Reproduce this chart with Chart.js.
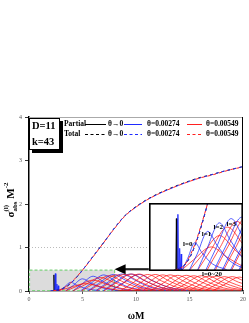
<!DOCTYPE html>
<html>
<head>
<meta charset="utf-8">
<script src="https://cdn.jsdelivr.net/npm/chart.js@4"></script>
<style>
  html, body { margin: 0; padding: 0; background: #fff; }
  #wrap { position: relative; width: 249px; height: 323px; }
  #inset { position: absolute; }
</style>
</head>
<body>
<div id="wrap">
  <canvas id="main" width="249" height="323"></canvas>
  <div id="inset"><canvas id="insetChart"></canvas></div>
</div>
<script>
// total cross sections
const totalOmega = [2.0, 3.0, 3.5, 4.0, 4.5, 5.0, 6.0, 7.0, 8.0, 9.0, 10, 11, 12, 13, 14, 15, 16, 17, 18, 19, 20];
const totalZero = [0, 0.04, 0.10, 0.20, 0.33, 0.48, 0.80, 1.12, 1.45, 1.74, 1.94, 2.10, 2.23, 2.34, 2.44, 2.53, 2.61, 2.67, 2.74, 2.80, 2.86];
const totalBlue = [0, 0.04, 0.10, 0.20, 0.33, 0.48, 0.80, 1.12, 1.45, 1.74, 1.93, 2.09, 2.22, 2.33, 2.43, 2.52, 2.60, 2.67, 2.74, 2.80, 2.86];
const totalRed = [0, 0.04, 0.11, 0.21, 0.34, 0.48, 0.79, 1.12, 1.44, 1.73, 1.93, 2.09, 2.22, 2.33, 2.43, 2.52, 2.60, 2.66, 2.73, 2.80, 2.85];

// resonance spikes (omega, sigma)
const spikeZero = [[2.28, 0], [2.33, 0.37], [2.38, 0]];
const spikeBlue = [[2.41, 0], [2.46, 0.40], [2.51, 0], [2.57, 0], [2.61, 0.16], [2.65, 0], [2.70, 0], [2.74, 0.12], [2.78, 0]];

// partial cross sections, one list per l  (omega, sigma)
const partialBlue = [
  [[2.8, 0], [3.3, 0.09], [3.9, 0.20], [4.5, 0.13], [5.4, 0.05], [6.6, 0.01]],
  [[3.4, 0], [4.1, 0.12], [5.0, 0.28], [5.8, 0.18], [6.9, 0.07], [8.3, 0.01]],
  [[4.1, 0], [4.9, 0.15], [6.0, 0.34], [6.9, 0.22], [8.1, 0.08], [9.6, 0.01]],
  [[4.8, 0], [5.7, 0.16], [7.0, 0.37], [8.0, 0.24], [9.3, 0.09], [10.9, 0.01]],
  [[5.5, 0], [6.5, 0.17], [7.9, 0.38], [9.0, 0.25], [10.4, 0.09], [12.0, 0.01]],
  [[6.2, 0], [7.2, 0.17], [8.7, 0.39], [9.9, 0.25], [11.3, 0.09], [13.0, 0.01]],
  [[6.9, 0], [7.9, 0.17], [9.5, 0.39], [10.7, 0.25], [12.2, 0.09], [13.9, 0.01]],
  [[7.6, 0], [8.7, 0.17], [10.3, 0.38], [11.5, 0.24], [13.0, 0.09], [14.8, 0.01]]
];
const partialRed = [
  [[2.7, 0], [3.8, 0.08], [5.3, 0.17], [6.6, 0.10], [8.1, 0.03], [9.7, 0]],
  [[3.4, 0], [4.5, 0.11], [6.0, 0.25], [7.3, 0.15], [8.8, 0.05], [10.4, 0.01]],
  [[4.1, 0], [5.2, 0.14], [6.7, 0.31], [8.0, 0.19], [9.5, 0.06], [11.1, 0.01]],
  [[4.9, 0], [6.0, 0.16], [7.5, 0.35], [8.8, 0.21], [10.3, 0.07], [11.9, 0.01]],
  [[5.6, 0], [6.7, 0.17], [8.2, 0.37], [9.5, 0.22], [11.0, 0.07], [12.6, 0.01]],
  [[6.3, 0], [7.4, 0.17], [8.9, 0.38], [10.2, 0.23], [11.7, 0.08], [13.3, 0.01]],
  [[7.0, 0], [8.1, 0.18], [9.6, 0.39], [10.9, 0.23], [12.4, 0.08], [14.0, 0.01]],
  [[7.7, 0], [8.8, 0.18], [10.3, 0.39], [11.6, 0.23], [13.1, 0.08], [14.7, 0.01]],
  [[8.5, 0], [9.6, 0.17], [11.1, 0.38], [12.4, 0.23], [13.9, 0.08], [15.5, 0.01]],
  [[9.2, 0], [10.3, 0.17], [11.8, 0.38], [13.1, 0.23], [14.6, 0.08], [16.2, 0.01]],
  [[9.9, 0], [11.0, 0.17], [12.5, 0.37], [13.8, 0.22], [15.3, 0.07], [16.9, 0.01]],
  [[10.6, 0], [11.7, 0.17], [13.2, 0.37], [14.5, 0.22], [16.0, 0.07], [17.6, 0.01]],
  [[11.3, 0], [12.4, 0.16], [13.9, 0.36], [15.2, 0.22], [16.7, 0.07], [18.3, 0.01]],
  [[12.1, 0], [13.2, 0.16], [14.7, 0.36], [16.0, 0.22], [17.5, 0.07], [19.1, 0.01]],
  [[12.8, 0], [13.9, 0.16], [15.4, 0.35], [16.7, 0.21], [18.2, 0.07], [19.8, 0.01]],
  [[13.5, 0], [14.6, 0.16], [16.1, 0.35], [17.4, 0.21], [18.9, 0.07], [20, 0.03]],
  [[14.2, 0], [15.3, 0.15], [16.8, 0.34], [18.1, 0.20], [19.6, 0.07], [20, 0.05]],
  [[14.9, 0], [16.0, 0.15], [17.5, 0.34], [18.8, 0.20], [20, 0.09]],
  [[15.7, 0], [16.8, 0.15], [18.3, 0.33], [19.6, 0.20], [20, 0.17]],
  [[16.4, 0], [17.5, 0.15], [19.0, 0.33], [20, 0.24]],
  [[17.1, 0], [18.2, 0.14], [19.7, 0.32], [20, 0.30]]
];

const xTicks = [0, 5, 10, 15, 20];
const yTicks = [0, 1, 2, 3, 4];
const refLineY = 1;
const zoomX = [0, 8];
const zoomY = [0, 0.48];
const insetX = [11.2, 20];
const insetY = [0.47, 2.03];
const arrowY = 0.5;
const lLabels = ["l=0", "l=1", "l=2", "l=3"];
const lLabelX = [3.3, 4.9, 5.9, 7.0];
const lLabelY = [0.19, 0.26, 0.31, 0.33];
const rangeLabel = "l=0~20";
const rangeLabelPos = [17.1, 0.38];

const RED = "rgba(255,0,0,0.9)";
const BLUE = "#1f2bff";
const SERIF = '"Liberation Serif", "Times New Roman", serif';

const pts = (arr) => arr.map((p) => ({ x: p[0], y: p[1] }));
const zipPts = (xs, ys) => xs.map((x, i) => ({ x: x, y: ys[i] }));

function makeDatasets(blueOnTop) {
  const sets = [];
  const w = 0.75;
  sets.push({ data: zipPts(totalOmega, totalRed), borderColor: "#ff2020", borderDash: [3, 3], borderDashOffset: 3, borderWidth: 1, order: 0 });
  sets.push({ data: zipPts(totalOmega, totalBlue), borderColor: "#3030ff", borderDash: [3, 3], borderWidth: 1, order: 0 });
  sets.push({ data: zipPts(totalOmega, totalZero), borderColor: "#000", borderDash: [3, 3], borderWidth: 1, order: 0 });
  partialRed.forEach((c) => {
    sets.push({ data: pts(c), borderColor: RED, borderWidth: w, order: blueOnTop ? 2 : 1 });
  });
  partialBlue.forEach((c) => {
    sets.push({ data: pts(c), borderColor: BLUE, borderWidth: w, order: blueOnTop ? 1 : 2 });
  });
  sets.push({ data: pts(spikeBlue), borderColor: BLUE, borderWidth: 0.9, tension: 0, cubicInterpolationMode: "default", order: 1 });
  sets.push({ data: pts(spikeZero), borderColor: "#000", borderWidth: 0.9, tension: 0, cubicInterpolationMode: "default", order: 1 });
  return sets;
}

const zoomPlugin = {
  id: "zoomBox",
  beforeDatasetsDraw(chart) {
    const { ctx, scales: { x, y }, chartArea } = chart;
    ctx.save();
    // y = 1 dotted reference
    ctx.strokeStyle = "#bbb";
    ctx.lineWidth = 1;
    ctx.setLineDash([1, 2]);
    ctx.beginPath();
    ctx.moveTo(chartArea.left, y.getPixelForValue(refLineY));
    ctx.lineTo(chartArea.right, y.getPixelForValue(refLineY));
    ctx.stroke();
    // zoomed region
    const l = x.getPixelForValue(zoomX[0]), r = x.getPixelForValue(zoomX[1]);
    const t = y.getPixelForValue(zoomY[1]), b = y.getPixelForValue(zoomY[0]);
    ctx.fillStyle = "#dcdcdc";
    ctx.fillRect(l, t, r - l, b - t);
    ctx.strokeStyle = "#7fd27f";
    ctx.lineWidth = 1.2;
    ctx.setLineDash([3, 2]);
    ctx.strokeRect(l + 0.5, t, r - l - 0.5, b - t - 0.5);
    ctx.restore();
  },
  afterDraw(chart) {
    const { ctx, scales: { x, y }, chartArea } = chart;
    ctx.save();
    // frame
    ctx.lineWidth = 1;
    ctx.strokeStyle = "#aaa";
    ctx.beginPath();
    ctx.moveTo(chartArea.left, chartArea.top + 0.5);
    ctx.lineTo(chartArea.right, chartArea.top + 0.5);
    ctx.stroke();
    ctx.strokeStyle = "#000";
    ctx.beginPath();
    ctx.moveTo(chartArea.right - 0.5, chartArea.top);
    ctx.lineTo(chartArea.right - 0.5, chartArea.bottom);
    ctx.stroke();

    // arrow from inset to zoomed region
    const ay = y.getPixelForValue(arrowY);
    const tip = x.getPixelForValue(zoomX[1]);
    const tail = x.getPixelForValue(insetX[0]);
    ctx.fillStyle = "#000";
    ctx.strokeStyle = "#222";
    ctx.lineWidth = 2.2;
    ctx.beginPath();
    ctx.moveTo(tail, ay);
    ctx.lineTo(tip + 9, ay);
    ctx.stroke();
    ctx.beginPath();
    ctx.moveTo(tip, ay);
    ctx.lineTo(tip + 11, ay - 5);
    ctx.lineTo(tip + 11, ay + 5);
    ctx.closePath();
    ctx.fill();

    // range label
    ctx.font = "bold 7px " + SERIF;
    ctx.textAlign = "center";
    ctx.textBaseline = "middle";
    ctx.fillStyle = "#000";
    ctx.fillText(rangeLabel, x.getPixelForValue(rangeLabelPos[0]), y.getPixelForValue(rangeLabelPos[1]));

    // legend
    const rowsY = [124, 134];
    const names = ["Partial", "Total"];
    const segs = [[85, 106], [124, 142], [187, 202]];
    const textX = [108, 147, 206];
    const thetas = ["θ→0", "θ=0.00274", "θ=0.00549"];
    const cols = ["#000", BLUE, "#ff2020"];
    ctx.font = "bold 7.5px " + SERIF;
    ctx.textAlign = "left";
    rowsY.forEach((ry, r) => {
      ctx.fillStyle = "#000";
      ctx.fillText(names[r], 64, ry);
      segs.forEach((s, i) => {
        ctx.strokeStyle = cols[i];
        ctx.lineWidth = 1;
        ctx.setLineDash(r === 0 ? [] : [3, 2.5]);
        ctx.beginPath();
        ctx.moveTo(s[0], ry + 0.5);
        ctx.lineTo(s[1], ry + 0.5);
        ctx.stroke();
        ctx.fillStyle = "#000";
        ctx.fillText(thetas[i], textX[i], ry);
      });
    });
    ctx.setLineDash([]);

    // parameter box
    const bx = chartArea.left, by = chartArea.top + 1, bw = 31, bh = 32;
    ctx.fillStyle = "#000";
    ctx.fillRect(bx + 3, by + 3, bw, bh);
    ctx.fillStyle = "#fff";
    ctx.fillRect(bx, by, bw, bh);
    ctx.strokeStyle = "#000";
    ctx.lineWidth = 1;
    ctx.strokeRect(bx + 0.5, by + 0.5, bw - 1, bh - 1);
    ctx.fillStyle = "#000";
    ctx.font = "bold 10.5px " + SERIF;
    ctx.fillText("D=11", bx + 3, by + 8);
    ctx.fillText("k=43", bx + 3, by + 24);

    // axis titles
    ctx.textAlign = "center";
    ctx.font = "bold 10px " + SERIF;
    ctx.fillText("ωM", (chartArea.left + chartArea.right) / 2, 316);

    ctx.translate(10, 200);
    ctx.rotate(-Math.PI / 2);
    ctx.textAlign = "left";
    ctx.textBaseline = "alphabetic";
    const big = "bold 11px " + SERIF, small = "bold 7px " + SERIF;
    ctx.font = big;
    const wS = ctx.measureText("σ").width, wM = ctx.measureText(" M").width;
    ctx.font = small;
    const wScr = Math.max(ctx.measureText("(l)").width, ctx.measureText("abs").width);
    const w2 = ctx.measureText("-2").width;
    let px = -(wS + wScr + wM + w2) / 2;
    ctx.font = big; ctx.fillText("σ", px, 4); px += wS;
    ctx.font = small; ctx.fillText("(l)", px, -2); ctx.fillText("abs", px, 7); px += wScr;
    ctx.font = big; ctx.fillText(" M", px, 4); px += wM;
    ctx.font = small; ctx.fillText("-2", px, -2);
    ctx.restore();
  }
};

const tickFont = { family: SERIF, size: 6 };

const mainChart = new Chart(document.getElementById("main").getContext("2d"), {
  type: "line",
  data: { datasets: makeDatasets(false) },
  options: {
    responsive: false,
    animation: false,
    devicePixelRatio: 1,
    layout: { padding: { left: 1, right: 6, top: 117, bottom: 0 } },
    elements: { point: { radius: 0 }, line: { cubicInterpolationMode: "monotone", fill: false } },
    plugins: { legend: { display: false }, tooltip: { enabled: false } },
    scales: {
      x: {
        type: "linear", min: 0, max: 20,
        afterBuildTicks: (s) => { s.ticks = xTicks.map((v) => ({ value: v })); },
        afterFit: (s) => { s.height = 32; },
        ticks: { font: tickFont, color: "#555", padding: 2, maxRotation: 0 },
        grid: { display: true, drawOnChartArea: false, tickLength: 3, color: "#555" },
        border: { color: "#555", width: 1.5 }
      },
      y: {
        type: "linear", min: 0, max: 4,
        afterBuildTicks: (s) => { s.ticks = yTicks.map((v) => ({ value: v })); },
        afterFit: (s) => { s.width = 28; },
        ticks: { font: tickFont, color: "#555", padding: 3 },
        grid: { display: true, drawOnChartArea: false, tickLength: 4, color: "#333" },
        border: { color: "#000", width: 1.5 }
      }
    }
  },
  plugins: [zoomPlugin]
});

// inset: magnified view of the grey region
const sx = mainChart.scales.x, sy = mainChart.scales.y;
const iL = Math.round(sx.getPixelForValue(insetX[0]));
const iR = Math.round(sx.getPixelForValue(insetX[1]));
const iT = Math.round(sy.getPixelForValue(insetY[1]));
const iB = Math.round(sy.getPixelForValue(insetY[0]));
const insetDiv = document.getElementById("inset");
insetDiv.style.left = iL + "px";
insetDiv.style.top = iT + "px";
const insetCanvas = document.getElementById("insetChart");
insetCanvas.width = iR - iL;
insetCanvas.height = iB - iT;

const insetPlugin = {
  id: "insetDecor",
  beforeDraw(chart) {
    const { ctx, width, height } = chart;
    ctx.save();
    ctx.fillStyle = "#fff";
    ctx.fillRect(0, 0, width, height);
    ctx.restore();
  },
  afterDraw(chart) {
    const { ctx, width, height, scales: { x, y } } = chart;
    ctx.save();
    ctx.font = "bold 7px " + SERIF;
    ctx.textAlign = "center";
    ctx.textBaseline = "middle";
    ctx.fillStyle = "#000";
    lLabels.forEach((t, i) => {
      ctx.fillText(t, x.getPixelForValue(lLabelX[i]), y.getPixelForValue(lLabelY[i]));
    });
    ctx.strokeStyle = "#000";
    ctx.lineWidth = 1.6;
    ctx.strokeRect(0.8, 0.8, width - 1.6, height - 1.6);
    ctx.restore();
  }
};

new Chart(insetCanvas.getContext("2d"), {
  type: "line",
  data: { datasets: makeDatasets(true) },
  options: {
    responsive: false,
    animation: false,
    devicePixelRatio: 1,
    layout: { padding: 0 },
    elements: { point: { radius: 0 }, line: { cubicInterpolationMode: "monotone", fill: false } },
    plugins: { legend: { display: false }, tooltip: { enabled: false } },
    scales: {
      x: { type: "linear", min: zoomX[0], max: zoomX[1], display: false },
      y: { type: "linear", min: zoomY[0], max: zoomY[1], display: false }
    }
  },
  plugins: [insetPlugin]
});
</script>
</body>
</html>
